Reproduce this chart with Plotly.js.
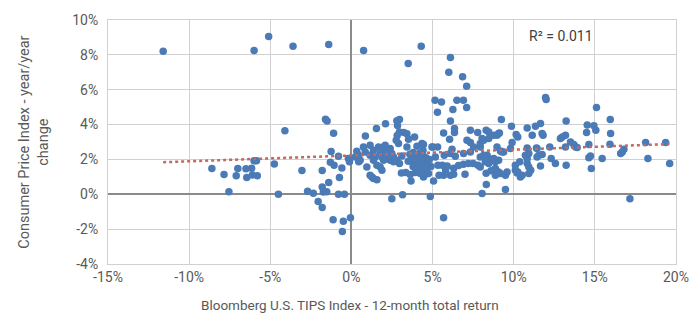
<!DOCTYPE html>
<html>
<head>
<meta charset="utf-8">
<script src="https://cdn.plot.ly/plotly-3.0.1.min.js"></script>
<style>html,body{margin:0;padding:0;background:#fff;}#chart{width:700px;height:325px;}</style>
</head>
<body>
<div id="chart"></div>
<script>
// [TIPS 12-month total return %, CPI year/year change %]
const pointsNegative = [
  [-11.6,8.2],[-6.0,8.25],[-5.1,9.05],[-3.6,8.5],[-1.4,8.6],
  [-4.1,3.65],[-1.6,4.3],[-1.5,4.2],[-1.1,3.5],
  [-8.6,1.48],[-7.85,1.13],[-7.55,0.15],[-7.1,1.07],[-7.0,1.48],[-6.5,1.46],[-6.45,0.96],[-6.15,1.5],[-6.1,1.11],[-6.0,1.92],[-5.85,1.92],[-5.8,1.07],[-4.75,1.74],[-4.5,0.0],
  [-3.05,1.37],[-1.8,1.36],[-1.25,2.45],[-1.3,1.84],[-1.07,1.67],[-1.4,0.67],[-1.8,0.42],[-2.7,0.17],[-2.35,0.06],[-1.73,0.13],[-1.52,0.15],[-2.05,-0.42],[-1.8,-0.76],[-1.13,-1.46],[-0.5,-1.55],[-0.56,-2.13],[-0.06,-1.34],[-0.8,0.0],[-0.43,0.0],[-0.74,0.96],[-0.59,1.51],[-0.8,2.18],[-0.19,2.05],[-0.12,1.86]
];
const points0to5 = [
  [0.75,8.25],[4.3,8.5],[3.5,7.5],
  [0.86,3.35],[1.54,3.77],[2.1,4.04],[2.96,4.29],[2.8,4.22],[2.84,3.95],[3.23,3.55],[3.42,3.47],[3.89,3.28],[2.82,3.37],[2.96,3.58],[3.52,3.16],[2.76,3.1],[2.9,2.91],
  [0.74,2.72],[1.15,2.82],[1.67,2.72],[2.08,2.82],[2.39,2.63],[0.85,2.43],[1.36,2.53],[1.98,2.72],[2.08,2.53],[2.49,2.34],
  [3.42,2.72],[4.04,2.76],[4.35,2.91],[4.44,2.86],[4.41,2.53],[4.96,2.72],
  [0.33,2.47],[0.43,2.24],[0.54,1.95],[0.23,2.14],[0.45,1.86],
  [1.15,2.24],[1.46,2.14],[1.36,1.95],[1.77,2.34],[1.88,2.14],[2.19,2.24],[1.98,1.95],[2.39,1.95],[2.59,1.86],[2.8,1.95],[2.96,1.76],[2.59,2.14],[3.11,2.2],
  [0.95,1.57],[1.15,1.09],[1.36,0.9],[1.57,0.84],[1.57,1.67],[1.77,1.57],[1.88,1.38],[1.26,0.99],
  [3.08,1.22],[3.35,1.25],[3.62,1.13],[3.93,1.25],[4.24,1.19],[4.5,1.1],[4.75,1.19],[3.67,0.76],[4.44,0.99],[5.06,0.76],
  [2.49,-0.25],[3.15,-0.02],[4.86,-0.13],
  [3.6,2.3],[3.8,2.4],[4.0,2.2],[4.2,2.35],[4.4,2.25],[4.6,2.1],[3.7,2.0],[3.9,1.9],[4.1,2.0],[4.3,1.85],[4.5,1.95],[4.7,1.8],[3.8,1.6],[4.0,1.7],[4.2,1.55],[4.4,1.65],[4.6,1.5],[4.1,1.4],[4.3,1.3],[4.8,2.0],[4.9,1.6],[3.5,1.9]
];
const points5to10 = [
  [6.1,7.85],[6.0,7.0],[6.85,6.75],[7.1,6.2],
  [5.15,5.4],[5.55,5.3],[6.5,5.4],[6.9,5.4],[5.3,4.7],[6.25,4.87],[7.1,4.98],[6.1,4.2],[6.35,3.78],[6.35,3.55],[5.68,3.52],[6.05,3.16],[7.33,3.68],[7.12,3.1],[7.33,2.97],[7.78,3.55],[8.05,3.2],[8.3,3.68],[8.46,3.58],[8.46,3.2],[9.24,4.29],[8.97,3.39],[9.12,3.52],[9.86,3.91],
  [5.02,2.72],[5.31,2.72],[6.2,2.59],[7.53,2.72],[7.94,2.72],[8.97,2.72],[9.9,2.97],[9.8,2.63],
  [5.72,2.24],[6.09,2.34],[6.4,2.18],[6.91,2.34],[7.33,2.43],
  [7.94,2.91],[8.15,3.1],[8.77,3.39],[9.07,3.49],[9.18,2.49],[9.38,2.43],
  [7.94,2.14],[8.15,2.24],[8.36,2.24],[8.46,2.05],[8.56,1.95],[8.25,1.86],[8.46,1.76],[8.87,1.86],[8.77,2.05],[9.07,1.95],[9.28,2.43],
  [5.6,1.67],[5.9,1.62],[5.8,1.4],[6.3,1.5],[6.6,1.65],[6.9,1.72],[7.2,1.76],[7.5,1.76],[7.8,1.67],[5.4,1.09],[5.68,1.09],[6.1,1.09],[6.3,1.15],[7.0,1.15],
  [7.94,1.57],[8.87,1.48],[9.07,1.28],[8.87,1.09],[9.59,1.28],[9.49,1.09],[9.18,1.19],[8.3,1.2],[8.6,1.35],
  [8.31,0.56],[9.49,0.27],[8.05,0.04],[5.68,-1.34],[5.33,1.67],[5.17,2.14]
];
const points10to20 = [
  [10.15,3.43],[10.25,3.29],[10.83,3.8],[11.34,3.91],[11.65,4.06],[11.14,3.39],[11.75,3.49],[11.81,3.39],
  [11.96,5.56],[12.0,5.44],[15.1,4.98],
  [13.23,4.2],[12.99,3.29],[12.88,3.2],[13.19,3.39],[13.5,3.0],[13.7,2.86],[13.81,2.72],[13.91,2.68],[13.19,2.72],
  [14.53,3.97],[14.94,3.93],[15.06,3.68],[14.49,3.55],[14.63,2.86],[15.95,4.29],[15.97,3.49],[15.93,2.87],
  [10.83,2.66],[11.4,2.66],[12.22,2.72],
  [10.72,2.24],[10.83,2.05],[11.44,2.14],[11.75,2.28],[12.31,2.05],[12.57,1.76],[13.23,1.67],[11.65,1.63],
  [10.83,1.76],[10.93,1.57],[11.05,1.38],
  [14.63,2.09],[14.73,2.2],[14.78,1.48],[15.45,2.05],
  [16.59,2.34],[16.69,2.43],[16.79,2.59],[17.16,-0.25],[18.13,2.97],[18.27,2.05],[19.36,2.97],[19.61,1.76],
  [10.37,1.86],[10.1,1.38],[10.21,1.22],[10.41,0.99],[10.52,1.09],[10.25,1.28],[10.93,1.19],
  [10.93,2.34],[11.44,2.63],[11.55,2.24],[10.1,1.67]
];
// Linear trend line
const trendX = [-11.6, 19.6];
const trendY = [1.84, 2.88];
const r2Label = 'R² = 0.011';
const xTickVals = [-15,-10,-5,0,5,10,15,20];
const xTickText = ['-15%','-10%','-5%','0%','5%','10%','15%','20%'];
const yTickVals = [-4,-2,0,2,4,6,8,10];
const yTickText = ['-4%','-2%','0%','2%','4%','6%','8%','10%'];
const xTitle = 'Bloomberg U.S. TIPS Index - 12-month total return';
const yTitle = 'Consumer Price Index - year/year<br>change';

const allPoints = pointsNegative.concat(points0to5, points5to10, points10to20);
const tipsReturn = allPoints.map(p => p[0]);
const cpiChange = allPoints.map(p => p[1]);

const FONT = 'Roboto, "Open Sans", Arial, sans-serif';
const GREY = '#595959';

const traces = [
  {
    x: tipsReturn, y: cpiChange, type: 'scatter', mode: 'markers',
    marker: {color: '#4a7bb7', size: 7.5, line: {width: 0}},
    hoverinfo: 'skip', showlegend: false
  },
  {
    x: trendX, y: trendY, type: 'scatter', mode: 'lines',
    line: {color: '#c0695e', width: 2.5, dash: 'dot'},
    hoverinfo: 'skip', showlegend: false
  }
];

const layout = {
  width: 700, height: 325,
  margin: {l: 108, r: 24, t: 20, b: 61},
  paper_bgcolor: '#ffffff', plot_bgcolor: '#ffffff',
  font: {family: FONT, size: 14, color: GREY},
  showlegend: false,
  xaxis: {
    range: [-15, 20], tickvals: xTickVals, ticktext: xTickText,
    showgrid: true, gridcolor: '#d0d0d0', gridwidth: 1,
    zeroline: true, zerolinecolor: '#8a8a8a', zerolinewidth: 2,
    showline: true, mirror: true, linecolor: '#d0d0d0', linewidth: 1,
    ticks: '', tickfont: {family: FONT, size: 14, color: GREY},
    fixedrange: true
  },
  yaxis: {
    range: [-4, 10], tickvals: yTickVals, ticktext: yTickText,
    showgrid: true, gridcolor: '#d0d0d0', gridwidth: 1,
    zeroline: true, zerolinecolor: '#8a8a8a', zerolinewidth: 2,
    showline: true, mirror: true, linecolor: '#d0d0d0', linewidth: 1,
    ticks: '', ticklabelstandoff: 6, tickfont: {family: FONT, size: 14, color: GREY},
    fixedrange: true
  },
  annotations: [
    {
      text: r2Label, xref: 'paper', yref: 'paper', x: 0.7975, y: 0.933,
      xanchor: 'center', yanchor: 'middle', showarrow: false,
      font: {family: FONT, size: 14, color: '#404040'}
    },
    {
      text: xTitle, xref: 'paper', yref: 'paper', x: 0.426, y: -0.168,
      xanchor: 'center', yanchor: 'middle', showarrow: false,
      font: {family: FONT, size: 13.5, color: GREY}
    },
    {
      text: yTitle, xref: 'paper', yref: 'paper', x: -0.1303, y: 0.501,
      xanchor: 'center', yanchor: 'middle', showarrow: false, textangle: -90,
      font: {family: FONT, size: 14.5, color: GREY}
    }
  ]
};

Plotly.newPlot('chart', traces, layout, {staticPlot: true, displayModeBar: false});
</script>
</body>
</html>
